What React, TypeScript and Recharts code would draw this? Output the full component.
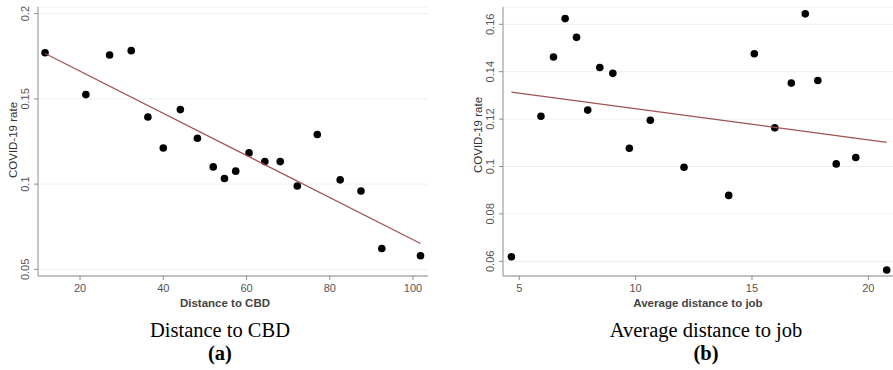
import React from "react";
import {
  ScatterChart,
  Scatter,
  XAxis,
  YAxis,
  CartesianGrid,
} from "recharts";

// (a) distance to CBD vs COVID-19 rate
const cbdDistance = [
  11.6, 21.4, 27.1, 32.3, 36.3, 40, 44.1, 48.2, 52, 54.7, 57.4, 60.6, 64.4,
  68.1, 72.2, 77, 82.5, 87.5, 92.5, 101.8,
];
const cbdRate = [
  0.1771, 0.1525, 0.1757, 0.1783, 0.1394, 0.1212, 0.1437, 0.1269, 0.1101,
  0.1033, 0.1076, 0.1183, 0.1132, 0.1132, 0.0989, 0.1291, 0.1025, 0.096,
  0.0622, 0.058,
];
const cbdFitX = [11.6, 101.8];
const cbdFitY = [0.1766, 0.0652];
const cbdXTicks = [20, 40, 60, 80, 100];
const cbdYTicks = [0.05, 0.1, 0.15, 0.2];

// (b) average distance to job vs COVID-19 rate
const jobDistance = [
  4.66, 5.93, 6.47, 6.97, 7.46, 7.94, 8.46, 9.02, 9.73, 10.63, 12.08, 14.0,
  15.1, 15.98, 16.69, 17.29, 17.83, 18.62, 19.46, 20.79,
];
const jobRate = [
  0.0619, 0.1212, 0.1462, 0.1624, 0.1545, 0.1238, 0.1418, 0.1393, 0.1077,
  0.1195, 0.0997, 0.0878, 0.1476, 0.1163, 0.1352, 0.1644, 0.1363, 0.1011,
  0.1038, 0.0563,
];
const jobFitX = [4.66, 20.79];
const jobFitY = [0.1314, 0.1102];
const jobXTicks = [5, 10, 15, 20];
const jobYTicks = [0.06, 0.08, 0.1, 0.12, 0.14, 0.16];

const toPoints = (xs: number[], ys: number[]) =>
  xs.map((x, i) => ({ x, y: ys[i] }));

const SANS = "'Liberation Sans', Arial, sans-serif";
const SERIF = "'Liberation Serif', 'Times New Roman', serif";
const AXIS = "#8c8c8c";
const TICK_TEXT = "#555";
const FIT = "#a0524f";

const Dot = (props: any) => (
  <circle cx={props.cx} cy={props.cy} r={3.8} fill="#000" />
);
const NoDot = () => <g />;

const VerticalTick = (props: any) => {
  const { x, y, payload } = props;
  return (
    <text
      transform={`translate(${x - 3},${y}) rotate(-90)`}
      textAnchor="middle"
      fontSize={11}
      fontFamily={SANS}
      fill={TICK_TEXT}
    >
      {payload.value}
    </text>
  );
};

function Panel({
  xs,
  ys,
  fitX,
  fitY,
  xTicks,
  yTicks,
  xDomain,
  yDomain,
  width,
  yAxisWidth,
  rightMargin,
  xTitle,
  xTitleX,
  yTitleX,
  yTitleY,
}: any) {
  return (
    <ScatterChart
      width={width}
      height={320}
      margin={{ top: 7, right: rightMargin, bottom: 0, left: 0 }}
    >
      <CartesianGrid vertical={false} stroke="#e9f1f1" />
      <XAxis
        type="number"
        dataKey="x"
        domain={xDomain}
        ticks={xTicks}
        allowDataOverflow
        height={44}
        tickSize={4}
        tickMargin={4}
        stroke={AXIS}
        tick={{ fontSize: 11, fontFamily: SANS, fill: TICK_TEXT }}
        label={{
          content: () => (
            <text
              x={xTitleX}
              y={307}
              textAnchor="middle"
              fontSize={11.5}
              fontWeight="bold"
              fontFamily={SANS}
              fill="#444"
            >
              {xTitle}
            </text>
          ),
        }}
      />
      <YAxis
        type="number"
        dataKey="y"
        domain={yDomain}
        ticks={yTicks}
        allowDataOverflow
        width={yAxisWidth}
        tickSize={4}
        stroke={AXIS}
        tick={<VerticalTick />}
        label={{
          content: () => (
            <text
              transform={`translate(${yTitleX + 4},${yTitleY}) rotate(-90)`}
              textAnchor="middle"
              fontSize={11.5}
              fontFamily={SANS}
              fill="#333"
            >
              COVID-19 rate
            </text>
          ),
        }}
      />
      <Scatter
        data={toPoints(xs, ys)}
        shape={<Dot />}
        isAnimationActive={false}
      />
      <Scatter
        data={toPoints(fitX, fitY)}
        shape={<NoDot />}
        line={{ stroke: FIT, strokeWidth: 1.2 }}
        isAnimationActive={false}
      />
    </ScatterChart>
  );
}

const captionStyle = (cx: number, top: number, bold: boolean) =>
  ({
    position: "absolute",
    left: cx - 150,
    top,
    width: 300,
    height: 20,
    textAlign: "center",
    fontFamily: SERIF,
    fontSize: 20.5,
    lineHeight: "20px",
    fontWeight: bold ? "bold" : "normal",
    color: "#000",
  }) as React.CSSProperties;

const Caption = ({ cx, text, tag }: any) => (
  <>
    <div style={captionStyle(cx, 319.5, false)}>{text}</div>
    <div style={captionStyle(cx, 342.5, true)}>{tag}</div>
  </>
);

export default function App() {
  return (
    <div
      style={{
        position: "absolute",
        left: 0,
        top: 0,
        width: 893,
        height: 370,
        background: "#fff",
        overflow: "hidden",
      }}
    >
      <div style={{ position: "absolute", left: 0, top: 0 }}>
        <Panel
          xs={cbdDistance}
          ys={cbdRate}
          fitX={cbdFitX}
          fitY={cbdFitY}
          xTicks={cbdXTicks}
          yTicks={cbdYTicks}
          xDomain={[9.9, 103.6]}
          yDomain={[0.0461, 0.2039]}
          width={450}
          yAxisWidth={38}
          rightMargin={22}
          xTitle="Distance to CBD"
          xTitleX={225}
          yTitleX={13}
          yTitleY={140}
        />
      </div>
      <div style={{ position: "absolute", left: 450, top: 0 }}>
        <Panel
          xs={jobDistance}
          ys={jobRate}
          fitX={jobFitX}
          fitY={jobFitY}
          xTicks={jobXTicks}
          yTicks={jobYTicks}
          xDomain={[4.3, 21.06]}
          yDomain={[0.0538, 0.1673]}
          width={443}
          yAxisWidth={53}
          rightMargin={0}
          xTitle="Average distance to job"
          xTitleX={248}
          yTitleX={28}
          yTitleY={135}
        />
      </div>
      <Caption cx={220} text="Distance to CBD" tag="(a)" />
      <Caption cx={706} text="Average distance to job" tag="(b)" />
    </div>
  );
}
